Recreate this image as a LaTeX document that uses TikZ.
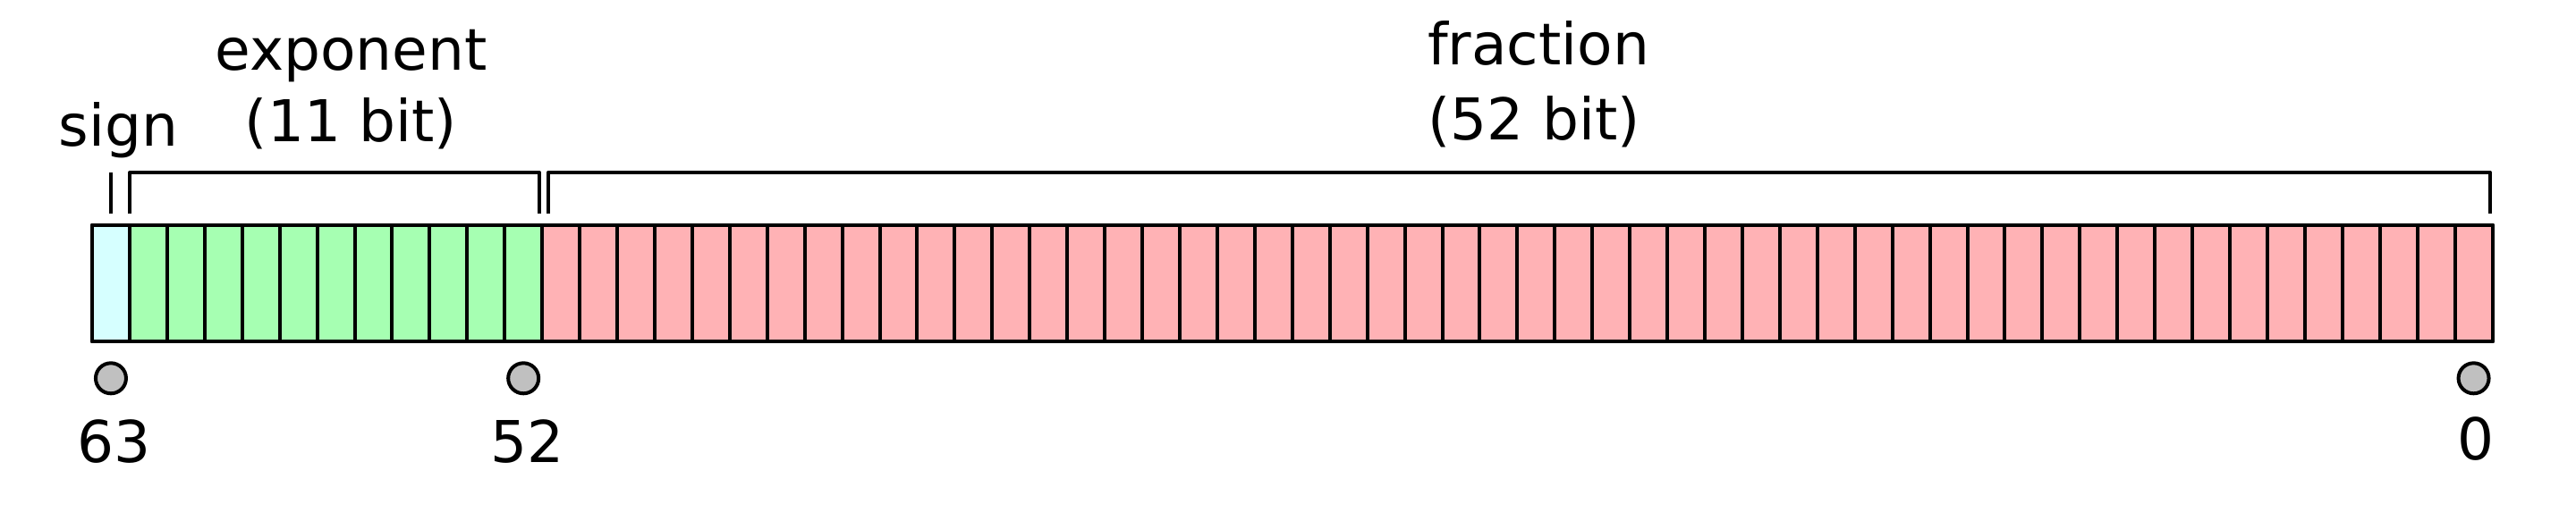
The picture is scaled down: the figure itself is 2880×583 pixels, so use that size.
\documentclass[tikz,border=0pt]{standalone}
\usepackage{fontspec}
\setmainfont{DejaVu Sans}
\usetikzlibrary{calc}
\definecolor{signc}{RGB}{214,255,255}
\definecolor{expc}{RGB}{166,255,178}
\definecolor{fracc}{RGB}{255,178,181}
\definecolor{dotc}{RGB}{192,192,192}
\tikzset{
  cell/.style={draw=black, line width=4pt, line join=round, minimum width=41.93pt, minimum height=130.7pt, inner sep=0pt, outer sep=0pt},
  brk/.style={draw=black, line width=4pt},
  dotmark/.style={circle, draw=black, fill=dotc, line width=4pt, minimum size=34pt, inner sep=0pt},
  lbl/.style={inner sep=0pt, anchor=base, font=\fontsize{64.5}{78}\selectfont}
}
\begin{document}
\begin{tikzpicture}[x=1pt,y=-1pt]
\useasboundingbox (0,0) rectangle (2880,583);
% cells: bit i at position k = 63 - i
\foreach \i in {0,...,63}{
  \pgfmathsetmacro{\k}{63-\i}
  \pgfmathsetmacro{\cx}{103+\k*41.93+20.965}
  \ifnum\i=63
    \node[cell, fill=signc] (b\i) at (\cx,317) {};
  \else\ifnum\i>51
    \node[cell, fill=expc] (b\i) at (\cx,317) {};
  \else
    \node[cell, fill=fracc] (b\i) at (\cx,317) {};
  \fi\fi
}
% redraw outline on top
\draw[line width=4pt, line join=round] (b63.north west) rectangle (b0.south east);
% brackets
\coordinate (s1) at (124,239.3);
\coordinate (s2) at (124,193.3);
\draw[brk] (s1) -- (s2);
\coordinate (e1) at (145,239.3);
\coordinate (e2) at (603,239.3);
\draw[brk, line join=round] (e1) |- (603,193.3) -- (e2);
\coordinate (f1) at (612.7,239.3);
\coordinate (f2) at (2784.3,239.3);
\draw[brk, line join=round] (f1) |- (2784.3,193.3) -- (f2);
% dots
\node[dotmark] (d63) at (b63.center |- 0,423.3) {};
\node[dotmark] (d52) at (b52.center |- 0,423.3) {};
\node[dotmark] (d0) at (b0.center |- 0,423.3) {};
% labels
\node[lbl] (tsign) at (132.5,163.3) {sign};
\node[lbl] (texp) at (392.5,78.3) {exponent};
\node[lbl] (texpb) at (392.5,158.3) {(11 bit)};
\node[lbl] (tfrac) at (1720,72.7) {fraction};
\node[lbl] (tfracb) at (1715,156.7) {(52 bit)};
\node[lbl] (n63) at (128,517) {63};
\node[lbl] (n52) at (590,517) {52};
\node[lbl] (n0) at (2768,514) {0};
\end{tikzpicture}
\end{document}
